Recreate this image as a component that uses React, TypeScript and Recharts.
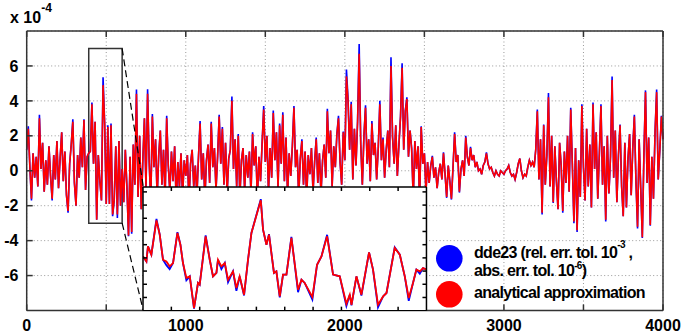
import React from 'react';
import {
  CartesianGrid,
  Line,
  LineChart,
  ReferenceArea,
  ReferenceLine,
  XAxis,
  YAxis,
} from 'recharts';

const W = 684;
const H = 335;
// plot box: left 26.7, right 663, top 31, bottom 310.5 (axes take 1px each)
const M = { top: 30, right: 20, bottom: 23.5, left: 25.7 };
const PLOT = { left: 26.7, right: 663, top: 31, bottom: 310.5 };
const FONT = '"Liberation Sans", Arial, sans-serif';

const xTicks = [0, 500, 1000, 1500, 2000, 2500, 3000, 3500, 4000];
const yTicks = [-6, -4, -2, 0, 2, 4, 6];
const STEP = 10; // samples every 10 time units, values in units of 1e-4

// dde23 solver (blue)
const dde23 = [
  1.2, 2.55, 0.2, -1.7, 1.0, -0.4, 0.8, -0.9, 3.2, 0.1, 1.6, -1.2, 0.6, -0.8, 1.4, -0.3, -1.7, 0.9, -0.5, 1.7,
  -1.0, 0.7, 2.2, -0.6, 1.1, -1.4, -2.4, 0.4, 1.5, 2.95, -0.7, -2.0, 0.9, -0.4, 1.9, 0.2, 2.95, -1.1, 0.8, 1.0,
  1.1, 3.9, 0.4, 2.8, -2.8, 0.9, -0.6, -1.7, 5.35, 2.7, -1.9, 2.6, -1.9, 2.7, -2.6, -1.7, 1.4, -2.7, 1.7, -2.0,
  0.1, -1.8, 1.2, -0.9, -3.75, 0.8, -3.6, 1.5, -0.8, 4.65, -1.5, 2.0, -2.2, 0.6, 3.0, -1.0, 4.67, 0.5, -1.8, 3.25,
  0.2, 1.8, -1.5, 0.9, 2.3, -0.8, 1.2, -1.6, 3.15, 0.3, -1.2, 1.1, -0.6, 1.4, -1.9, 0.5, -0.9, 1.0, -1.5, 0.6,
  -0.3, 0.9, -1.8, 0.4, 1.2, -0.9, 0.3, -1.4, 0.8, 2.85, -0.5, 1.0, -1.6, 0.6, 1.5, -0.7, 2.8, 0.2, 1.3, -1.1,
  0.8, 3.2, 0.4, 2.5, -0.8, 1.6, -1.3, 0.7, 1.2, 4.25, 0.1, 1.8, -0.9, 2.1, -1.5, 0.6, 1.3, -1.1, 0.9, -0.4,
  1.1, -1.3, 2.2, 0.3, 1.4, -1.7, 0.8, -0.6, 1.6, 3.7, 0.5, 2.0, -1.2, 1.3, -0.4, 3.45, 0.6, 2.2, -1.0, 2.7,
  0.4, 3.35, -0.6, 1.9, -1.4, 1.0, -0.3, 1.4, 3.7, 0.2, 1.2, -1.5, 0.7, 1.8, -0.8, 1.1, -1.6, 0.9, -0.2, 1.3,
  -1.2, 0.5, 1.9, -0.7, 1.0, -1.3, 0.6, 1.5, -0.4, 3.55, 1.0, 2.3, -0.9, 1.4, 0.2, 2.1, 3.15, 0.5, -0.8, 2.25,
  0.6, 5.8, 4.15, 1.2, 3.95, -0.5, 2.4, 0.3, 2.8, 7.25, 1.5, -0.8, 2.0, 3.75, 0.4, 1.8, -0.6, 2.85, 0.9, 1.6,
  -0.5, 1.3, 4.0, 0.6, 1.9, -0.4, 1.2, 2.3, 0.2, 6.5, 1.9, 0.4, 2.6, -0.3, 1.5, 3.1, 6.15, 1.2, 3.45, 4.2,
  0.8, 2.3, 1.3, -1.6, 1.7, 0.1, 1.4, -1.8, 2.55, 0.4, 1.0, -1.2, 0.5, -0.7, 0.3, 0.85, -0.4, 0.2, -1.0, -0.1,
  0.4, -0.5, 1.05, -0.2, -1.55, 0.3, -0.6, -1.65, 0.2, 2.2, 0.5, 0.9, -1.25, 0.1, 0.6, -0.3, 2.0, 0.8, 0.3, 1.37,
  0.6, 0.9, 0.2, 0.5, 0.0, 0.1, -0.2, 0.3, 0.5, 1.05, 0.4, 0.1, 0.2, -0.1, -0.3, 0.0, -0.2, -0.3, 0.0, -0.1,
  -0.2, 0.0, 0.1, 0.3, -0.1, -0.3, -0.2, -0.5, -0.1, 0.4, 0.7, 0.0, -0.4, -0.2, -0.3, 0.2, 0.6, 0.3, 0.5, 0.2,
  1.2, 3.5, -0.5, 1.8, -2.5, 2.65, -0.8, 0.9, 4.45, -0.9, 2.0, -1.85, 1.4, -0.6, -2.2, 1.6, 0.3, -2.4, 1.1, -0.7,
  2.0, -1.2, 3.6, 0.4, -3.0, 1.3, -3.5, 0.6, -1.5, 3.8, 0.2, -1.7, 2.4, -0.9, 1.5, -2.1, 3.9, 0.1, 2.2, -1.6,
  1.0, 3.8, -0.8, 1.4, -2.9, 2.0, -1.3, 0.8, 5.4, -0.4, 2.3, -1.8, 0.9, 2.65, -0.9, -2.6, 1.6, -2.1, 0.7, 2.1,
  -1.4, 1.3, 3.2, -0.6, -3.3, 1.8, -1.0, -3.85, 0.9, 4.6, -0.7, 1.9, -3.15, 0.8, -1.6, 2.2, 4.65, -0.5, 1.2, 3.15, 1.8,
];

// analytical approximation (red)
const analytical = [
  1.2, 2.4, 0.2, -1.6, 1.0, -0.4, 0.8, -0.9, 3.0, 0.1, 1.6, -1.2, 0.6, -0.8, 1.4, -0.3, -1.6, 0.9, -0.5, 1.7,
  -1.0, 0.7, 2.2, -0.6, 1.1, -1.4, -2.3, 0.4, 1.5, 2.8, -0.7, -2.0, 0.9, -0.4, 1.9, 0.2, 2.9, -1.1, 0.8, 1.0,
  1.1, 3.8, 0.4, 2.8, -2.8, 0.9, -0.6, -1.7, 4.9, 2.7, -1.9, 2.5, -1.9, 2.6, -2.5, -1.7, 1.4, -2.5, 1.7, -2.0,
  0.1, -1.8, 1.2, -0.9, -3.7, 0.8, -3.5, 1.5, -0.8, 4.4, -1.5, 2.0, -2.2, 0.6, 3.0, -1.0, 4.4, 0.5, -1.8, 3.1,
  0.2, 1.8, -1.5, 0.9, 2.3, -0.8, 1.2, -1.6, 3.0, 0.3, -1.2, 1.1, -0.6, 1.4, -1.9, 0.5, -0.9, 1.0, -1.5, 0.6,
  -0.3, 0.9, -1.8, 0.4, 1.2, -0.9, 0.3, -1.4, 0.8, 2.7, -0.5, 1.0, -1.6, 0.6, 1.5, -0.7, 2.7, 0.2, 1.3, -1.1,
  0.8, 3.1, 0.4, 2.4, -0.8, 1.6, -1.3, 0.7, 1.2, 4.0, 0.1, 1.8, -0.9, 2.0, -1.5, 0.6, 1.3, -1.1, 0.9, -0.4,
  1.1, -1.3, 2.1, 0.3, 1.4, -1.7, 0.8, -0.6, 1.6, 3.5, 0.5, 2.0, -1.2, 1.3, -0.4, 3.3, 0.6, 2.2, -1.0, 2.6,
  0.4, 3.2, -0.6, 1.9, -1.4, 1.0, -0.3, 1.4, 3.6, 0.2, 1.2, -1.5, 0.7, 1.7, -0.8, 1.1, -1.6, 0.9, -0.2, 1.3,
  -1.2, 0.5, 1.8, -0.7, 1.0, -1.3, 0.6, 1.5, -0.4, 3.4, 1.0, 2.3, -0.9, 1.4, 0.2, 2.1, 3.0, 0.5, -0.8, 2.2,
  0.6, 5.4, 4.0, 1.2, 3.8, -0.5, 2.4, 0.3, 2.8, 6.7, 1.5, -0.8, 2.0, 3.6, 0.4, 1.8, -0.6, 2.7, 0.9, 1.6,
  -0.5, 1.3, 3.8, 0.6, 1.8, -0.4, 1.2, 2.3, 0.2, 6.0, 1.9, 0.4, 2.6, -0.3, 1.5, 3.1, 5.9, 1.2, 3.4, 4.1,
  0.8, 2.3, 1.2, -1.6, 1.7, 0.1, 1.4, -1.8, 2.5, 0.4, 1.0, -1.2, 0.5, -0.7, 0.3, 0.8, -0.4, 0.2, -1.0, -0.1,
  0.4, -0.5, 1.0, -0.2, -1.5, 0.3, -0.6, -1.6, 0.2, 2.1, 0.5, 0.9, -1.2, 0.1, 0.6, -0.3, 1.9, 0.8, 0.3, 1.3,
  0.6, 0.9, 0.2, 0.5, 0.0, 0.1, -0.2, 0.3, 0.5, 1.0, 0.4, 0.1, 0.2, -0.1, -0.3, 0.0, -0.2, -0.3, 0.0, -0.1,
  -0.2, 0.0, 0.1, 0.3, -0.1, -0.3, -0.2, -0.5, -0.1, 0.4, 0.7, 0.0, -0.4, -0.2, -0.3, 0.2, 0.6, 0.3, 0.5, 0.2,
  1.2, 3.4, -0.5, 1.8, -2.4, 2.6, -0.8, 0.9, 4.2, -0.9, 2.0, -1.8, 1.4, -0.6, -2.2, 1.6, 0.3, -2.3, 1.1, -0.7,
  2.0, -1.2, 3.5, 0.4, -2.9, 1.3, -3.4, 0.6, -1.5, 3.7, 0.2, -1.7, 2.4, -0.9, 1.5, -2.1, 3.8, 0.1, 2.2, -1.6,
  1.0, 3.7, -0.8, 1.4, -2.8, 2.0, -1.3, 0.8, 5.2, -0.4, 2.3, -1.8, 0.9, 2.6, -0.9, -2.6, 1.6, -2.1, 0.7, 2.1,
  -1.4, 1.3, 3.1, -0.6, -3.2, 1.8, -1.0, -3.8, 0.9, 4.5, -0.7, 1.9, -3.1, 0.8, -1.6, 2.2, 4.5, -0.5, 1.2, 3.1, 1.8,
];

// zoomed window t = 400..600
const insetT = [
  400, 402.4, 403.5, 405.9, 409.5, 411.8, 414.1, 416.5, 418.8, 421.2, 424.3, 426.4, 428.2, 430.6, 433, 436,
  438.8, 440, 444.2, 447.1, 449.4, 451.8, 452.9, 455.3, 457.7, 460, 463.5, 465.9, 468.2, 471.3, 474.1, 476.5,
  483.1, 484.7, 487.1, 488.9, 492.4, 494.1, 496.5, 498.8, 501.2, 504.7, 509.4, 511.8, 514.1, 519.5, 522.8,
  525.9, 529.9, 534.1, 538.8, 543.5, 545.9, 547.1, 550.6, 554.1, 559.5, 562.3, 565.8, 569.4, 571.8, 577.6,
  581.2, 584.7, 587.5, 590.5, 592.9, 595.3, 597.6, 600,
];
const insetDde23 = [
  1.11, 0.73, 1.87, 1.24, 3.95, 2.76, 0.86, 0.45, 0.15, 0.61, 2.95, 2.0, 0.61, -0.7, -0.4, -2.85,
  -0.9, -1.03, 2.7, 0.86, -0.4, -0.14, 0.86, 0.15, 0.61, -0.85, -0.02, -1.5, -0.4, -1.85, 0.86, 2.89,
  5.45, 3.14, 2.0, 2.8, -0.14, -0.02, -2.0, -0.27, -0.27, 2.6, -1.6, -0.65, -0.9, -2.15, 0.48,
  1.11, 2.75, -0.27, -0.4, -2.65, -1.79, -2.6, -0.4, -1.85, 1.42, 0.11, -2.75, -1.92, -1.66, 1.8,
  1.24, -0.4, -2.25, -0.9, 0.11, -0.2, 0.23, 0.11,
];
const insetAnalytical = [
  1.11, 0.73, 1.87, 1.24, 3.84, 2.76, 0.86, 0.73, 0.36, 0.61, 2.89, 2.0, 0.61, -0.52, -0.4, -2.8,
  -0.9, -1.03, 2.63, 0.86, -0.4, -0.14, 0.86, 0.36, 0.61, -0.65, -0.02, -1.28, -0.4, -1.79, 0.86, 2.89,
  5.36, 3.14, 2.0, 2.76, -0.14, -0.02, -1.92, -0.27, -0.27, 2.51, -1.41, -0.65, -0.9, -1.96, 0.48,
  1.11, 2.63, -0.27, -0.4, -2.47, -1.79, -2.55, -0.4, -1.79, 1.42, 0.11, -2.55, -1.92, -1.66, 1.75,
  1.24, -0.4, -2.04, -0.9, 0.11, -0.02, 0.23, 0.11,
];
const insetXTicks = [420, 440, 460, 480, 500, 520, 540, 560, 580];
const insetYTicks = [-2, -1, 0, 1, 2, 3, 4, 5, 6];

const mainData = analytical.map((v, i) => ({ t: i * STEP, analytical: v, dde23: dde23[i] }));
const insetData = insetT.map((t, i) => ({ t, analytical: insetAnalytical[i], dde23: insetDde23[i] }));

// box in the main plot and where the magnified panel sits (data units)
const box = { x1: 390, x2: 600, y1: -3, y2: 7 };
const panel = { x1: 733, x2: 2515, yTop: -0.92 };

const sx = (v: number) => PLOT.left + (v / 4000) * (PLOT.right - PLOT.left);
const sy = (v: number) => PLOT.top + ((8 - v) / 16) * (PLOT.bottom - PLOT.top);

const tickStyle = { fill: '#000', fontSize: 16, fontWeight: 'bold', fontFamily: FONT };
const blank = () => '';

const Inset = () => {
  const left = sx(panel.x1);
  const top = sy(panel.yTop);
  const w = sx(panel.x2) - left;
  const h = sy(-8) - top;
  return (
    <div style={{ position: 'absolute', left: left - 1, top: top - 1, width: w + 2, height: h + 2 }}>
      <div style={{ position: 'absolute', left: 1, top: 1, width: w, height: h, background: '#fff' }} />
      <LineChart width={w + 2} height={h + 2} data={insetData} margin={{ top: 0, right: 0, bottom: 0, left: 0 }}>
        <XAxis xAxisId="b" dataKey="t" type="number" domain={[400, 600]} ticks={insetXTicks} interval={0}
          tickFormatter={blank} tickSize={-4} height={1} stroke="#000" strokeWidth={1.5} allowDataOverflow />
        <XAxis xAxisId="t" orientation="top" dataKey="t" type="number" domain={[400, 600]} ticks={insetXTicks}
          interval={0} tickFormatter={blank} tickSize={-4} height={1} stroke="#000" strokeWidth={1.5} allowDataOverflow />
        <YAxis yAxisId="l" type="number" domain={[-3, 6.37]} ticks={insetYTicks} interval={0}
          tickFormatter={blank} tickSize={-4} width={1} stroke="#000" strokeWidth={1.5} allowDataOverflow />
        <YAxis yAxisId="r" orientation="right" type="number" domain={[-3, 6.37]} ticks={insetYTicks} interval={0}
          tickFormatter={blank} tickSize={-4} width={1} stroke="#000" strokeWidth={1.5} allowDataOverflow />
        <Line xAxisId="b" yAxisId="l" type="linear" dataKey="dde23" stroke="#0000ff" strokeWidth={1.8}
          dot={false} isAnimationActive={false} />
        <Line xAxisId="b" yAxisId="l" type="linear" dataKey="analytical" stroke="#ff0000" strokeWidth={1.8}
          dot={false} isAnimationActive={false} />
      </LineChart>
    </div>
  );
};

const Overlay = () => (
  <svg width={W} height={H} style={{ position: 'absolute', left: 0, top: 0, pointerEvents: 'none' }}>
    <g fontFamily={FONT} fontWeight="bold" fill="#000">
      <text x={10} y={22.7} fontSize={16}>
        x 10<tspan dy={-11} fontSize={12}>-4</tspan>
      </text>
      <circle cx={449.3} cy={258.3} r={13.3} fill="#0000ff" />
      <circle cx={449.3} cy={294.3} r={13.3} fill="#ff0000" />
      <g fontSize={16} letterSpacing={-0.7}>
        <text x={474} y={258.3}>
          dde23 (rel. err. tol. 10<tspan dy={-10} fontSize={10}>-3</tspan>
          <tspan dy={10}> ,</tspan>
        </text>
        <text x={474} y={276}>
          abs. err. tol. 10<tspan dy={-7} fontSize={10}>-6</tspan>
          <tspan dy={7}>)</tspan>
        </text>
        <text x={474} y={297.5}>analytical approximation</text>
      </g>
    </g>
  </svg>
);

const App = () => (
  <div style={{ position: 'absolute', left: 0, top: 0, width: W, height: H, background: '#fff' }}>
    <LineChart width={W} height={H} data={mainData} margin={M}>
      <CartesianGrid xAxisId="b" yAxisId="l" stroke="#999" strokeDasharray="1 2.5" />
      <XAxis xAxisId="b" dataKey="t" type="number" domain={[0, 4000]} ticks={xTicks} interval={0}
        tickFormatter={(v: number) => (v % 1000 === 0 ? String(v) : '')}
        tick={tickStyle} tickSize={-6} tickMargin={15.5} height={1} stroke="#333" strokeWidth={1.5} />
      <XAxis xAxisId="t" orientation="top" dataKey="t" type="number" domain={[0, 4000]} ticks={xTicks}
        interval={0} tickFormatter={blank} tickSize={-6} height={1} stroke="#333" strokeWidth={1.5} />
      <YAxis yAxisId="l" type="number" domain={[-8, 8]} ticks={yTicks} interval={0}
        tick={tickStyle} tickSize={-6} tickMargin={14.2} width={1} stroke="#333" strokeWidth={1.5} />
      <YAxis yAxisId="r" orientation="right" type="number" domain={[-8, 8]} ticks={yTicks} interval={0}
        tickFormatter={blank} tickSize={-6} width={1} stroke="#333" strokeWidth={1.5} />
      <Line xAxisId="b" yAxisId="l" type="linear" dataKey="dde23" stroke="#0000ff" strokeWidth={1.6}
        dot={false} isAnimationActive={false} />
      <Line xAxisId="b" yAxisId="l" type="linear" dataKey="analytical" stroke="#ff0000" strokeWidth={1.6}
        dot={false} isAnimationActive={false} />
      <ReferenceArea xAxisId="b" yAxisId="l" x1={box.x1} x2={box.x2} y1={box.y1} y2={box.y2}
        fill="none" fillOpacity={0} stroke="#333" strokeWidth={1.5} />
      <ReferenceLine xAxisId="b" yAxisId="l" segment={[{ x: box.x2, y: box.y2 }, { x: panel.x1, y: panel.yTop }]}
        stroke="#000" strokeWidth={1.2} strokeDasharray="7 4" />
      <ReferenceLine xAxisId="b" yAxisId="l" segment={[{ x: box.x2, y: box.y1 }, { x: panel.x1, y: -8 }]}
        stroke="#000" strokeWidth={1.2} strokeDasharray="7 4" />
    </LineChart>
    <Inset />
    <Overlay />
  </div>
);

export default App;
